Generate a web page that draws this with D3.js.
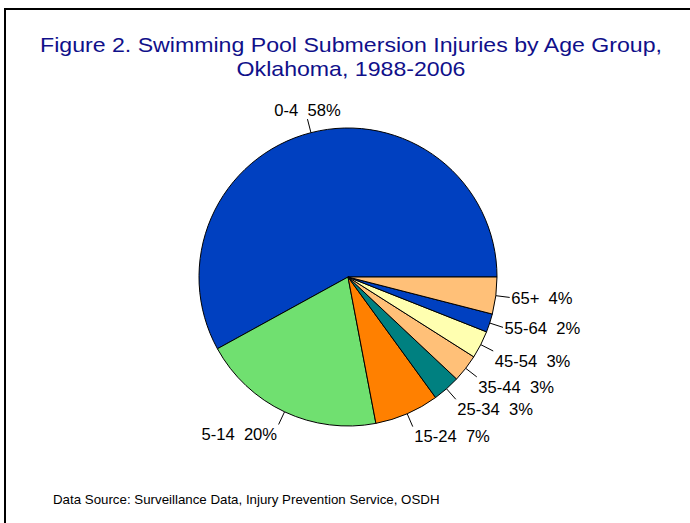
<!DOCTYPE html>
<html>
<head>
<meta charset="utf-8">
<script src="https://cdn.jsdelivr.net/npm/d3@7.9.0/dist/d3.min.js"></script>
<style>
  body { margin: 0; background: #fff; }
  text { font-family: "Liberation Sans", Arial, sans-serif; }
</style>
</head>
<body>
<svg id="chart" width="690" height="523"></svg>
<script>
// data
const ageGroups = ['0-4', '5-14', '15-24', '25-34', '35-44', '45-54', '55-64', '65+'];
const percents = [58, 20, 7, 3, 3, 3, 2, 4];
const sliceColors = ['#0040c0', '#70e070', '#ff8000', '#008080', '#ffc078', '#ffffb0', '#0040c0', '#ffc078'];
const titleLines = ['Figure 2. Swimming Pool Submersion Injuries by Age Group,', 'Oklahoma, 1988-2006'];
const sourceNote = 'Data Source: Surveillance Data, Injury Prevention Service, OSDH';

const data = ageGroups.map((g, i) => ({ label: g, value: percents[i], color: sliceColors[i] }));

const svg = d3.select('#chart');

// frame
svg.append('rect')
  .attr('x', 5).attr('y', 9)
  .attr('width', 700).attr('height', 530)
  .attr('fill', 'none')
  .attr('stroke', '#000')
  .attr('stroke-width', 2);

// title (the original font is a bit stretched sideways)
svg.append('g')
  .attr('transform', 'translate(351,0) scale(1.157,1)')
  .append('text')
  .attr('text-anchor', 'middle')
  .attr('fill', '#10108a')
  .attr('font-size', 20)
  .selectAll('tspan')
  .data(titleLines)
  .join('tspan')
  .attr('x', 0)
  .attr('y', (d, i) => 52 + i * 24)
  .text(d => d);

// pie: first slice starts at 3 o'clock and runs counter-clockwise
const cx = 348, cy = 277, r = 149;
const pie = d3.pie().value(d => d.value).sort(null)
  .startAngle(Math.PI / 2)
  .endAngle(Math.PI / 2 - 2 * Math.PI);
const arcs = pie(data);
const arc = d3.arc().innerRadius(0).outerRadius(r);

const g = svg.append('g').attr('transform', `translate(${cx},${cy})`);

g.selectAll('path')
  .data(arcs)
  .join('path')
  .attr('d', arc)
  .attr('fill', d => d.data.color)
  .attr('stroke', '#000')
  .attr('stroke-width', 1);

// leader lines + labels
const leadLen = 14;
arcs.forEach(d => {
  const mid = (d.startAngle + d.endAngle) / 2;
  const sx = Math.sin(mid), sy = -Math.cos(mid);
  const x0 = sx * r, y0 = sy * r;
  const x1 = sx * (r + leadLen), y1 = sy * (r + leadLen);

  g.append('line')
    .attr('x1', x0).attr('y1', y0)
    .attr('x2', x1).attr('y2', y1)
    .attr('stroke', '#000')
    .attr('stroke-width', 1);

  let anchor = 'start', tx = x1 + 1.5;
  if (Math.abs(sx) < 0.3) { anchor = 'middle'; tx = x1; }
  else if (sx < 0) { anchor = 'end'; tx = x1 - 1.5; }

  let ty = y1 + 1;
  if (sy > 0.4) ty = y1 + 10;
  else if (sy < -0.4) ty = y1 - 9;

  g.append('text')
    .attr('x', tx).attr('y', ty)
    .attr('dy', '0.35em')
    .attr('text-anchor', anchor)
    .attr('font-size', 16.6)
    .attr('fill', '#000')
    .style('white-space', 'pre')
    .text(`${d.data.label}  ${d.data.value}%`);
});

// source note
svg.append('text')
  .attr('x', 53).attr('y', 504)
  .attr('font-size', 13.3)
  .attr('fill', '#000')
  .text(sourceNote);
</script>
</body>
</html>
